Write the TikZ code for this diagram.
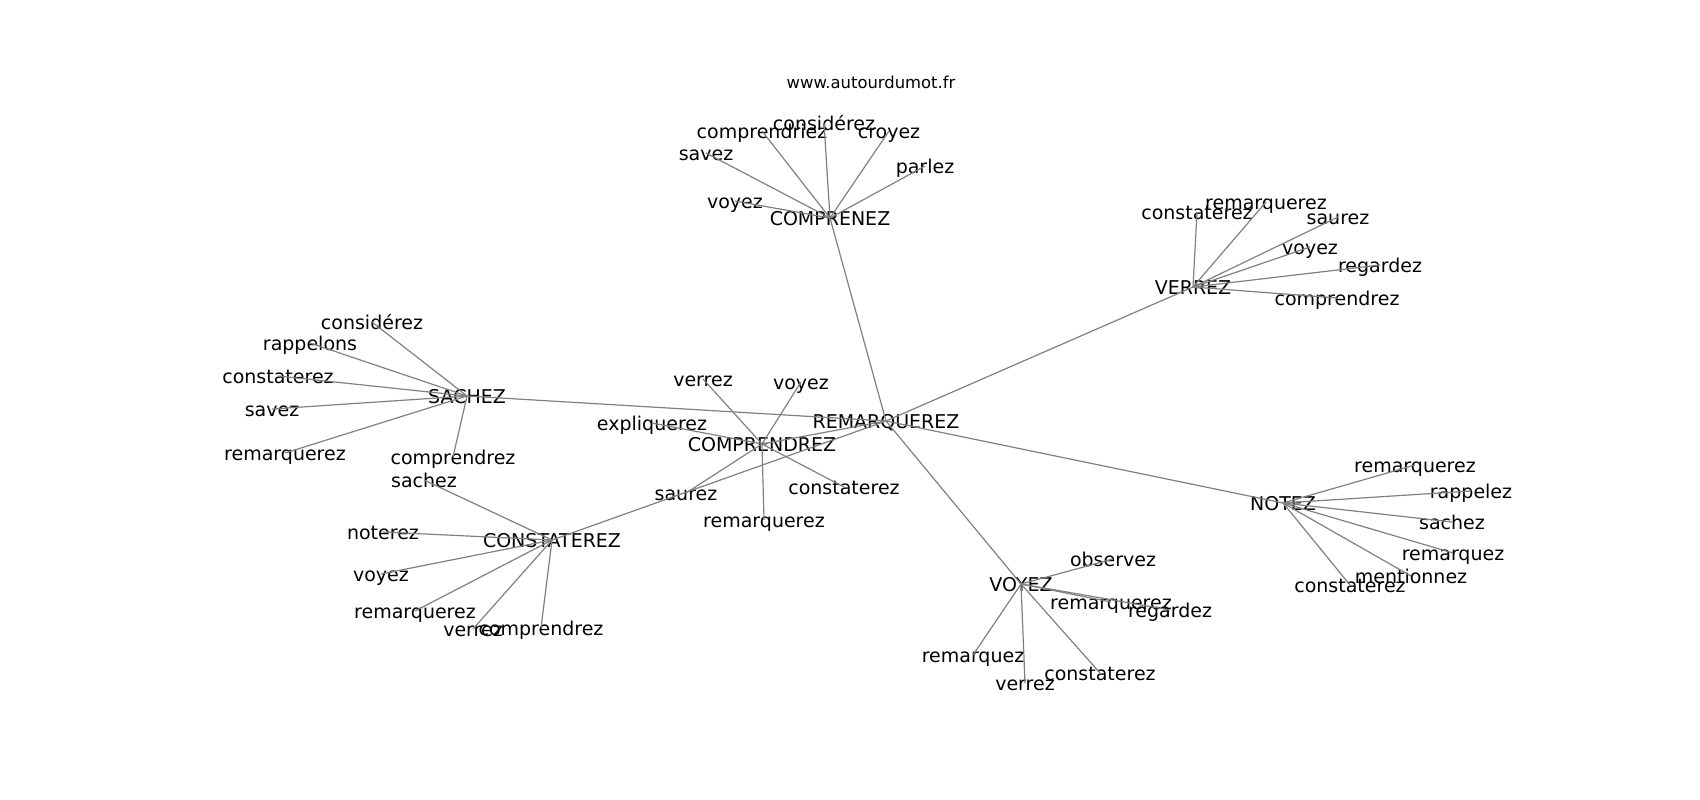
\documentclass[tikz,border=0pt]{standalone}
\usepackage{fontspec}
\setmainfont{DejaVu Sans}
\begin{document}
\begin{tikzpicture}[x=1pt,y=-1pt,
  lbl/.style={inner sep=0pt, text height=17pt, text depth=2.4pt, font=\fontsize{19pt}{22pt}\selectfont, anchor=center},
  ttl/.style={inner sep=0pt, font=\fontsize{16.4pt}{19pt}\selectfont},
  edge/.style={draw=gray, line width=1.2pt}]
\useasboundingbox (0,0) rectangle (1700,800);
\node[ttl] (title) at (871,82) {www.autourdumot.fr};
% hubs
\node[lbl] (rem) at (886,421) {REMARQUEREZ};
\node[lbl] (cpz) at (830,218) {COMPRENEZ};
\node[lbl] (ver) at (1193,287) {VERREZ};
\node[lbl] (sac) at (467,396) {SACHEZ};
\node[lbl] (cpd) at (762,444) {COMPRENDREZ};
\node[lbl] (cst) at (552,540) {CONSTATEREZ};
\node[lbl] (not) at (1283,503) {NOTEZ};
\node[lbl] (voy) at (1021,584) {VOYEZ};
% COMPRENEZ leaves
\node[lbl] (a1) at (735,201) {voyez};
\node[lbl] (a2) at (706,153) {savez};
\node[lbl] (a3) at (762,131) {comprendriez};
\node[lbl] (a4) at (824,123) {considérez};
\node[lbl] (a5) at (889,131) {croyez};
\node[lbl] (a6) at (925,166) {parlez};
% VERREZ leaves
\node[lbl] (b1) at (1197,212) {constaterez};
\node[lbl] (b2) at (1266,202) {remarquerez};
\node[lbl] (b3) at (1338,217) {saurez};
\node[lbl] (b4) at (1310,247) {voyez};
\node[lbl] (b5) at (1380,265) {regardez};
\node[lbl] (b6) at (1337,298) {comprendrez};
% SACHEZ leaves
\node[lbl] (c1) at (372,322) {considérez};
\node[lbl] (c2) at (310,343) {rappelons};
\node[lbl] (c3) at (278,376) {constaterez};
\node[lbl] (c4) at (272,409) {savez};
\node[lbl] (c5) at (285,453) {remarquerez};
\node[lbl] (c6) at (453,457) {comprendrez};
% CONSTATEREZ leaves
\node[lbl] (d1) at (424,480) {sachez};
\node[lbl] (d2) at (383,532) {noterez};
\node[lbl] (d3) at (381,574) {voyez};
\node[lbl] (d4) at (415,611) {remarquerez};
\node[lbl] (d5) at (473,629) {verrez};
\node[lbl] (d6) at (541,628) {comprendrez};
% COMPRENDREZ leaves
\node[lbl] (e1) at (703,379) {verrez};
\node[lbl] (e2) at (801,382) {voyez};
\node[lbl] (e3) at (652,423) {expliquerez};
\node[lbl] (e4) at (686,493) {saurez};
\node[lbl] (e5) at (844,487) {constaterez};
\node[lbl] (e6) at (764,520) {remarquerez};
% NOTEZ leaves
\node[lbl] (f1) at (1415,465) {remarquerez};
\node[lbl] (f2) at (1471,491) {rappelez};
\node[lbl] (f3) at (1452,522) {sachez};
\node[lbl] (f4) at (1453,553) {remarquez};
\node[lbl] (f5) at (1411,576) {mentionnez};
\node[lbl] (f6) at (1350,585) {constaterez};
% VOYEZ leaves
\node[lbl] (g1) at (1113,559) {observez};
\node[lbl] (g2) at (1111,602) {remarquerez};
\node[lbl] (g3) at (1170,610) {regardez};
\node[lbl] (g4) at (973,655) {remarquez};
\node[lbl] (g5) at (1025,683) {verrez};
\node[lbl] (g6) at (1100,673) {constaterez};
% edges
\foreach \h in {cpz,ver,sac,cpd,cst,not,voy} \draw[edge] (rem.center) -- (\h.center);
\foreach \l in {a1,a2,a3,a4,a5,a6} \draw[edge] (cpz.center) -- (\l.center);
\foreach \l in {b1,b2,b3,b4,b5,b6} \draw[edge] (ver.center) -- (\l.center);
\foreach \l in {c1,c2,c3,c4,c5,c6} \draw[edge] (sac.center) -- (\l.center);
\foreach \l in {d1,d2,d3,d4,d5,d6} \draw[edge] (cst.center) -- (\l.center);
\foreach \l in {e1,e2,e3,e4,e5,e6} \draw[edge] (cpd.center) -- (\l.center);
\foreach \l in {f1,f2,f3,f4,f5,f6} \draw[edge] (not.center) -- (\l.center);
\foreach \l in {g1,g2,g3,g4,g5,g6} \draw[edge] (voy.center) -- (\l.center);
\end{tikzpicture}
\end{document}
